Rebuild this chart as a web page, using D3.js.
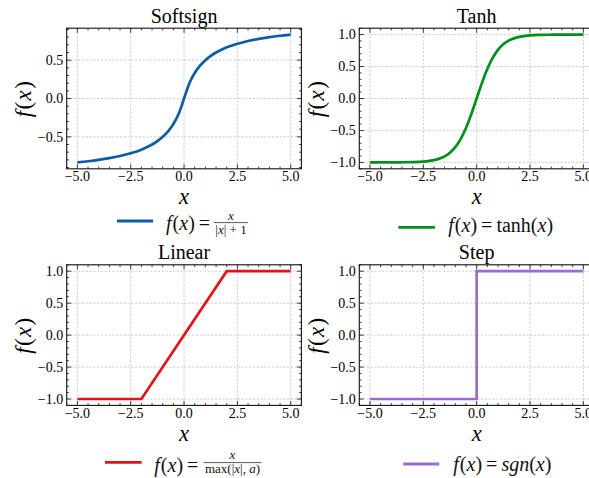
<!DOCTYPE html>
<html><head><meta charset="utf-8">
<script src="https://cdn.jsdelivr.net/npm/d3@7"></script>
<style>
html,body{margin:0;padding:0;background:#fff;}
svg{display:block;font-family:"Liberation Serif","Times New Roman",serif;}
</style></head><body>
<svg id="c" width="589" height="478"></svg>
<script>
const titles = ["Softsign","Tanh","Linear","Step"];
const xTicks = [-5, -2.5, 0, 2.5, 5];
const xTickLabels = ["\u22125.0","\u22122.5","0.0","2.5","5.0"];
const ySoftTicks = [-0.5, 0, 0.5];
const ySoftTickLabels = ["\u22120.5","0.0","0.5"];
const yUnitTicks = [-1, -0.5, 0, 0.5, 1];
const yUnitTickLabels = ["\u22121.0","\u22120.5","0.0","0.5","1.0"];
const curveX = [-5,-4.5,-4,-3.5,-3,-2.5,-2,-1.75,-1.5,-1.25,-1,-0.75,-0.5,-0.25,0,0.25,0.5,0.75,1,1.25,1.5,1.75,2,2.5,3,3.5,4,4.5,5];
const softsignY = [-0.833,-0.818,-0.800,-0.778,-0.750,-0.714,-0.667,-0.636,-0.600,-0.556,-0.500,-0.429,-0.333,-0.200,0,0.200,0.333,0.429,0.500,0.556,0.600,0.636,0.667,0.714,0.750,0.778,0.800,0.818,0.833];
const tanhY = [-1.000,-1.000,-0.999,-0.998,-0.995,-0.987,-0.964,-0.941,-0.905,-0.848,-0.762,-0.635,-0.462,-0.245,0,0.245,0.462,0.635,0.762,0.848,0.905,0.941,0.964,0.987,0.995,0.998,0.999,1.000,1.000];
const linearX = [-5,-2,2,5];
const linearY = [-1,-1,1,1];
const stepX = [-5,0,0,5];
const stepY = [-1,-1,1,1];
const colors = ["#0C5DA5","#008F1A","#E0141C","#9A6DCB"];

const svg = d3.select("#c");
const PW = 234.7, PH = 140.6;
const lefts = [66.7, 359.3], tops = [28.2, 264.8];
const FS_TICK = 14;

const panels = [
  {xs: curveX, ys: softsignY, ydom: [-0.9167, 0.9167], yt: ySoftTicks, ytl: ySoftTickLabels, smooth: true},
  {xs: curveX, ys: tanhY, ydom: [-1.1, 1.1], yt: yUnitTicks, ytl: yUnitTickLabels, smooth: true},
  {xs: linearX, ys: linearY, ydom: [-1.1, 1.1], yt: yUnitTicks, ytl: yUnitTickLabels, smooth: false},
  {xs: stepX, ys: stepY, ydom: [-1.1, 1.1], yt: yUnitTicks, ytl: yUnitTickLabels, smooth: false}
];

function range(a, b, s) { const out = []; const n = Math.round((b - a) / s); for (let i = 0; i <= n; i++) out.push(+(a + i * s).toFixed(6)); return out; }

panels.forEach((p, i) => {
  const L = lefts[i % 2], T = tops[Math.floor(i / 2)];
  const x = d3.scaleLinear([-5.5, 5.5], [L, L + PW]);
  const y = d3.scaleLinear(p.ydom, [T + PH, T]);
  const g = svg.append("g");

  // grid
  g.selectAll(".gx").data(xTicks).join("line")
    .attr("x1", d => x(d)).attr("x2", d => x(d)).attr("y1", T).attr("y2", T + PH)
    .attr("stroke", "#b0b0b0").attr("stroke-width", 0.65).attr("stroke-dasharray", "2.2,1.6");
  g.selectAll(".gy").data(p.yt).join("line")
    .attr("y1", d => y(d)).attr("y2", d => y(d)).attr("x1", L).attr("x2", L + PW)
    .attr("stroke", "#b0b0b0").attr("stroke-width", 0.65).attr("stroke-dasharray", "2.2,1.6");

  // curve
  const line = d3.line().x((d, k) => x(p.xs[k])).y(d => y(d)).curve(p.smooth ? d3.curveMonotoneX : d3.curveLinear);
  g.append("path").attr("d", line(p.ys)).attr("fill", "none").attr("stroke", colors[i])
    .attr("stroke-width", 2.7).attr("stroke-linejoin", p.smooth ? "round" : "miter");

  // ticks
  const xMinor = range(-5.5, 5.5, 0.5).filter(v => !xTicks.some(t => Math.abs(t - v) < 1e-6));
  const yMinor = range(-1.1, 1.1, 0.1).filter(v => v >= p.ydom[0] && v <= p.ydom[1] && !p.yt.some(t => Math.abs(t - v) < 1e-6));
  const tk = (data, len, horiz) => {
    data.forEach(v => {
      if (horiz) {
        const xx = x(v);
        g.append("line").attr("x1", xx).attr("x2", xx).attr("y1", T + PH).attr("y2", T + PH - len).attr("stroke", "#000").attr("stroke-width", 0.75);
        g.append("line").attr("x1", xx).attr("x2", xx).attr("y1", T).attr("y2", T + len).attr("stroke", "#000").attr("stroke-width", 0.75);
      } else {
        const yy = y(v);
        g.append("line").attr("y1", yy).attr("y2", yy).attr("x1", L).attr("x2", L + len).attr("stroke", "#000").attr("stroke-width", 0.75);
        g.append("line").attr("y1", yy).attr("y2", yy).attr("x1", L + PW).attr("x2", L + PW - len).attr("stroke", "#000").attr("stroke-width", 0.75);
      }
    });
  };
  tk(xTicks, 4.5, true); tk(xMinor, 2.3, true);
  tk(p.yt, 4.5, false); tk(yMinor, 2.3, false);

  // spines
  g.append("rect").attr("x", L).attr("y", T).attr("width", PW).attr("height", PH)
    .attr("fill", "none").attr("stroke", "#111").attr("stroke-width", 1.1);

  // tick labels
  g.selectAll(".xl").data(xTicks).join("text").attr("x", d => x(d)).attr("y", T + PH + 12.4)
    .attr("text-anchor", "middle").attr("font-size", FS_TICK).attr("fill", "#000").text((d, k) => xTickLabels[k]);
  g.selectAll(".yl").data(p.yt).join("text").attr("x", L - 3.5).attr("y", d => y(d) + 4.7)
    .attr("text-anchor", "end").attr("font-size", FS_TICK).attr("fill", "#000").text((d, k) => p.ytl[k]);

  // title
  g.append("text").attr("x", L + PW / 2).attr("y", T - 5.5).attr("text-anchor", "middle")
    .attr("font-size", 20).attr("fill", "#000").text(titles[i]);

  // x label
  g.append("text").attr("x", L + PW / 2).attr("y", T + PH + 35.2).attr("text-anchor", "middle")
    .attr("font-size", 22.5).attr("font-style", "italic").attr("fill", "#000").text("x");

  // y label
  const yl = g.append("text").attr("transform", `translate(${L - 35.5},${T + PH / 2}) rotate(-90)`)
    .attr("text-anchor", "middle").attr("font-size", 23).attr("fill", "#000").attr("letter-spacing", 1.4);
  yl.append("tspan").attr("font-style", "italic").text("f");
  yl.append("tspan").text("(");
  yl.append("tspan").attr("font-style", "italic").text("x");
  yl.append("tspan").text(")");
});

// legends
function mathText(x, y, parts, size) {
  const t = svg.append("text").attr("x", x).attr("y", y).attr("font-size", size).attr("fill", "#111");
  parts.forEach(pt => t.append("tspan").text(pt[0]).attr("font-style", pt[1] ? "italic" : "normal").attr("dx", pt[2] || 0));
  return t;
}
const fx = [["f", 1], ["(", 0, 1], ["x", 1], [")", 0], ["=", 0, 4]];

const legends = [
  {line: [117, 153, 221], tx: 166, ty: 229.5, extra: [], frac: {c: 231, bar: 222.6, nb: 219.6, db: 233.6, num: [["x", 1]], den: [["|", 0], ["x", 1], ["|", 0], [" + 1", 0]]}},
  {line: [398.3, 435, 227.3], tx: 448.3, ty: 232, extra: [["tanh", 0, 4], ["(", 0], ["x", 1], [")", 0]]},
  {line: [105, 141.7, 462.3], tx: 154.3, ty: 471.5, extra: [], frac: {c: 232.5, bar: 462.6, nb: 459, db: 473, num: [["x", 1]], den: [["max(|", 0], ["x", 1], ["|, ", 0], ["a", 1], [")", 0]]}},
  {line: [403.3, 439.3, 464], tx: 453.3, ty: 470.5, extra: [["sgn", 1, 4], ["(", 0], ["x", 1], [")", 0]]}
];

legends.forEach((lg, i) => {
  svg.append("line").attr("x1", lg.line[0]).attr("x2", lg.line[1]).attr("y1", lg.line[2]).attr("y2", lg.line[2])
    .attr("stroke", colors[i]).attr("stroke-width", 2.8);
  mathText(lg.tx, lg.ty, fx.concat(lg.extra), 20);
  if (lg.frac) {
    const f = lg.frac;
    const num = mathText(f.c, f.nb, f.num, 13).attr("text-anchor", "middle");
    const den = mathText(f.c, f.db, f.den, 13).attr("text-anchor", "middle");
    const w = Math.max(num.node().getComputedTextLength(), den.node().getComputedTextLength()) + 3;
    svg.append("line").attr("x1", f.c - w / 2).attr("x2", f.c + w / 2).attr("y1", f.bar).attr("y2", f.bar)
      .attr("stroke", "#111").attr("stroke-width", 0.7);
  }
});
</script>
</body></html>
